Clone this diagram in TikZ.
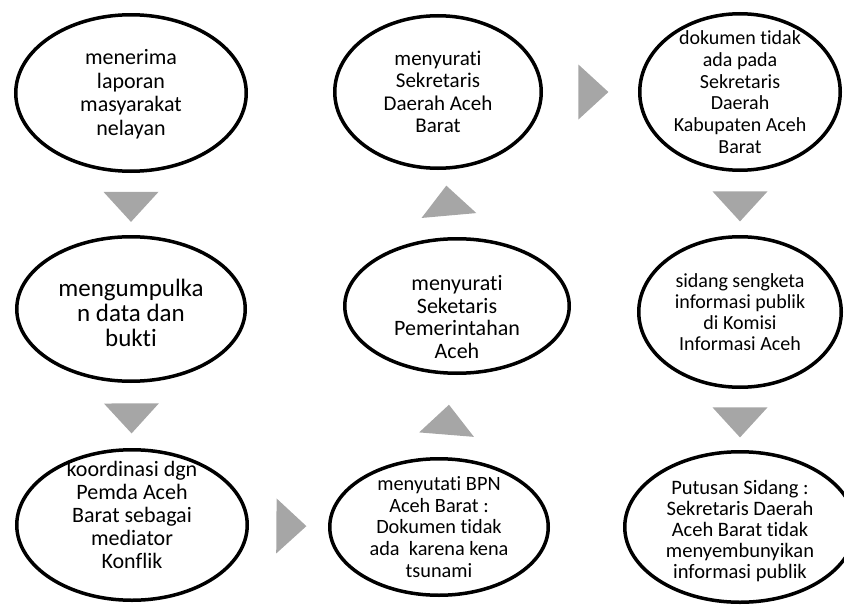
\documentclass[tikz,border=0pt]{standalone}
\usepackage{fontspec}
\setmainfont{Carlito}[Ligatures=CommonOff]
\usetikzlibrary{shapes.geometric}
\definecolor{arrowgray}{RGB}{166,166,166}
\newcommand{\txtsize}[2]{\fontsize{#1}{#2}\selectfont\lineskiplimit=-100pt}

\begin{document}
\begin{tikzpicture}[x=1pt, y=-1pt,
		bubble/.style={ellipse, draw, line width=3.5pt, fill=white, inner sep=0pt},
		txt/.style={align=center, inner sep=0pt},
		tri/.style={isosceles triangle, isosceles triangle stretches, fill=arrowgray,
			inner sep=0pt, outer sep=0pt, minimum width=55pt, minimum height=30pt,
			sloped, allow upside down}]
			\useasboundingbox (0,0) rectangle (844,605);
			% left column
			\node [bubble, minimum width=230.5pt, minimum height=156.5pt] (A) at (131,93) {};
			\node [bubble, minimum width=228.5pt, minimum height=144.5pt] (B) at (131,309) {};
			\node [bubble, minimum width=230.5pt, minimum height=150.5pt] (C) at (132,525) {};
			% middle column
			\node [bubble, minimum width=206.5pt, minimum height=152.5pt] (D) at (438,92) {};
			\node [bubble, minimum width=224.5pt, minimum height=134.5pt] (E) at (457,306) {};
			\node [bubble, minimum width=218.5pt, minimum height=136.5pt] (F) at (439,527) {};
			% right column
			\node [bubble, minimum width=200.5pt, minimum height=156.5pt] (G) at (740,92) {};
			\node [bubble, minimum width=202.5pt, minimum height=150.5pt] (H) at (740,312) {};
			\node [bubble, minimum width=230.5pt, minimum height=150.5pt] (I) at (740,527) {};
			% texts
			\node [txt, font=\txtsize{22}{23.5}, yshift=-1pt] at (A) {menerima\\laporan\\masyarakat\\nelayan};
			\node [txt, font=\txtsize{25}{25}, yshift=-4pt] at (B) {mengumpulka\\n data dan\\bukti};
			\node [txt, font=\txtsize{22}{23}, yshift=10pt] at (C) {koordinasi dgn\\Pemda Aceh\\Barat sebagai\\mediator\\Konflik};
			\node [txt, font=\txtsize{21}{22.5}] at (D) {menyurati\\Sekretaris\\Daerah Aceh\\Barat};
			\node [txt, font=\txtsize{22}{22.5}, yshift=-11pt] at (E) {menyurati\\Seketaris\\Pemerintahan\\Aceh};
			\node [txt, font=\txtsize{20.3}{21.7}] at (F) {menyutati BPN\\Aceh Barat :\\Dokumen tidak\\ada\ \ karena kena\\tsunami};
			\node [txt, font=\txtsize{20}{21.7}] at (G) {dokumen tidak\\ada pada\\Sekretaris\\Daerah\\Kabupaten Aceh\\Barat};
			\node [txt, font=\txtsize{20}{21.2}] at (H) {sidang sengketa\\informasi publik\\di Komisi\\Informasi Aceh};
			\node [txt, font=\txtsize{20.5}{20.8}, yshift=-4pt] at (I) {Putusan Sidang :\\Sekretaris Daerah\\Aceh Barat tidak\\menyembunyikan\\informasi publik};
			% arrows
			\path (A) -- (B) node [tri, midway] {};
			\path (B) -- (C) node [tri, midway] {};
			\path (C) -- (F) node [tri, midway] {};
			\path (F) -- (E) node [tri, pos=.42] {};
			\path (E) -- (D) node [tri, midway] {};
			\path (D) -- (G) node [tri, midway] {};
			\path (G) -- (H) node [tri, midway] {};
			\path (H) -- (I) node [tri, midway] {};
		\end{tikzpicture}
\end{document}
